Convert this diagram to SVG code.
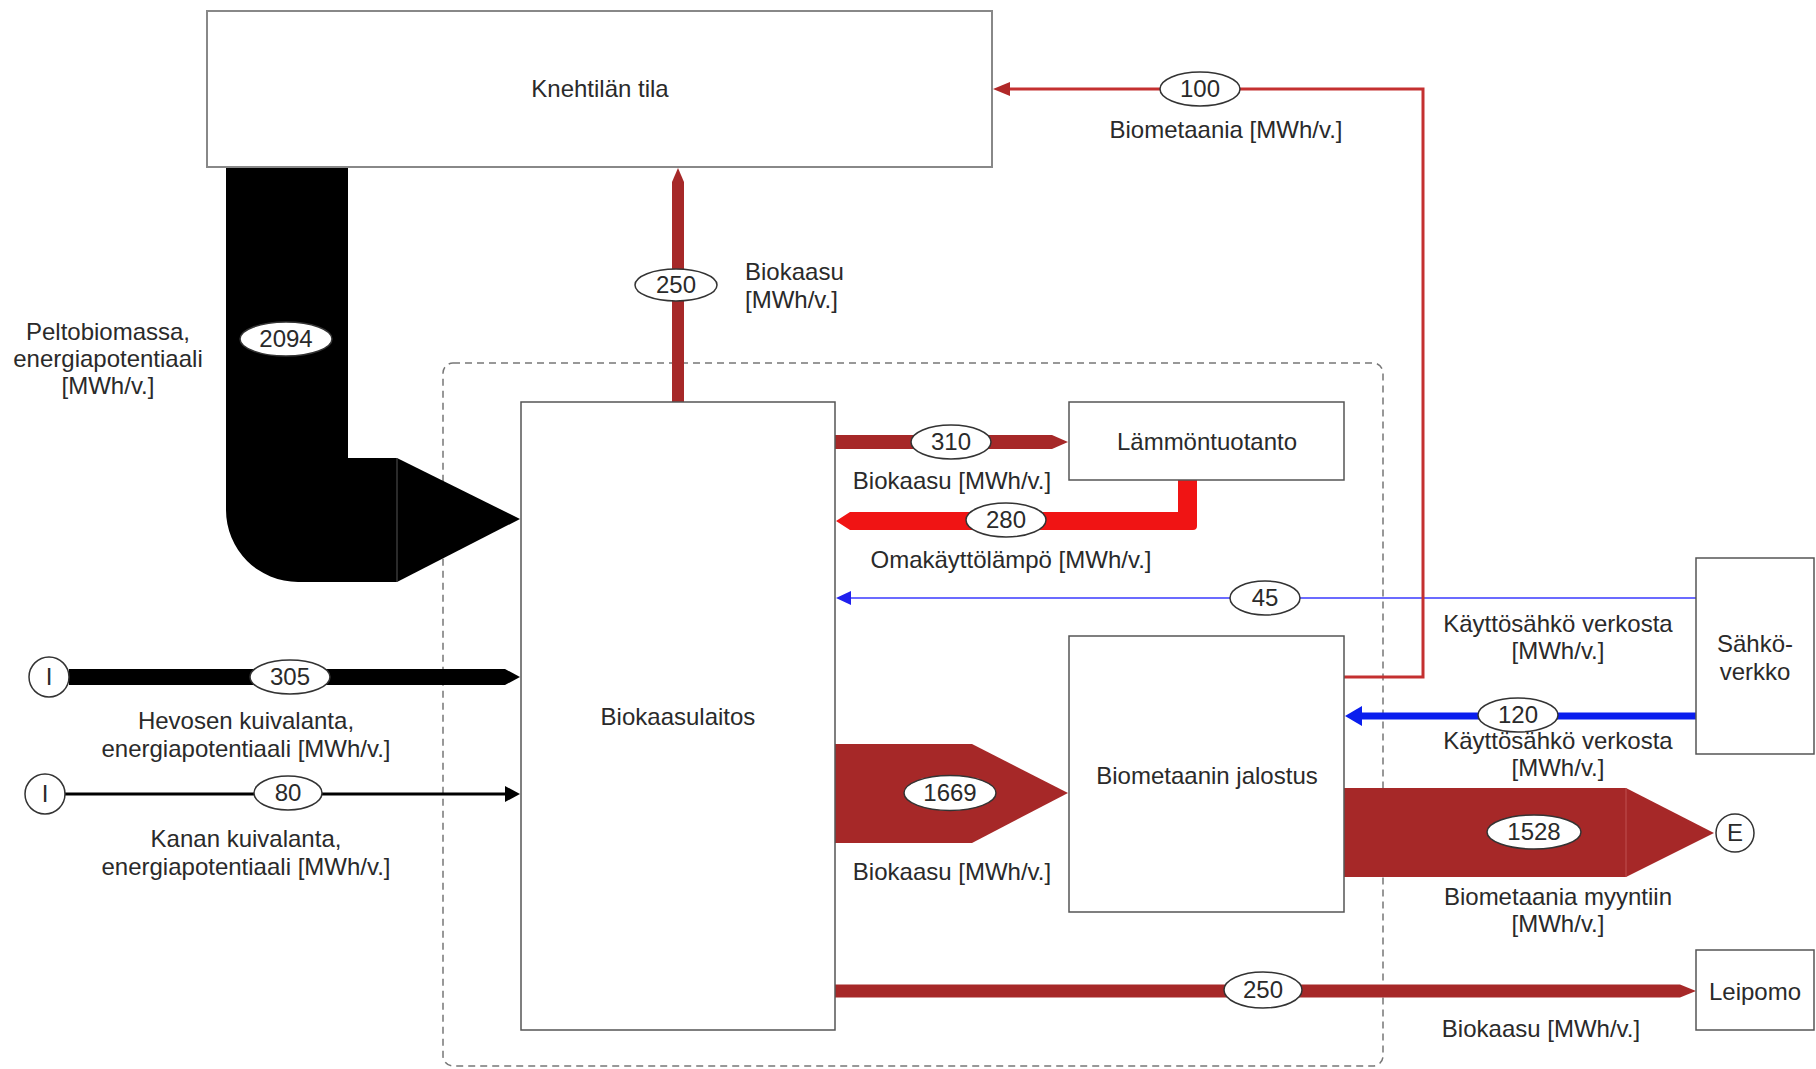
<svg xmlns="http://www.w3.org/2000/svg" width="1816" height="1069" viewBox="0 0 1816 1069">
<style>
text{font-family:"Liberation Sans",Arial,sans-serif;font-size:24px;fill:#2a2a2a;}
.c{text-anchor:middle;}
.box{fill:#fff;stroke:#555;stroke-width:1.5;}
.lbl{fill:#fff;stroke:#333;stroke-width:1.5;}
.dr{fill:#A62828;}
</style>
<rect width="1816" height="1069" fill="#fff"/>
<rect x="443" y="363" width="940" height="703" rx="10" fill="none" stroke="#777" stroke-width="1.5" stroke-dasharray="7 5"/>

<g id="connectors">
  <!-- Peltobiomassa 2094 -->
  <path d="M226,167 H348 V458 H397 V582 H298 A72,72 0 0 1 226,510 Z" fill="#000"/>
  <polygon points="397,458 520,519 397,582" fill="#000"/>
  <line x1="397" y1="458" x2="397" y2="582" stroke="#555" stroke-width="1"/>
  <!-- 250 up to Knehtilän tila -->
  <path class="dr" d="M672,402 V182 L678,168 L684,182 V402 Z"/>
  <!-- 310 -->
  <path class="dr" d="M835,435 H1052 L1068,442 L1052,449 H835 Z"/>
  <!-- 280 -->
  <path d="M1178,480 H1197 V526 Q1197,530 1193,530 H850 L836,521 L850,512 H1178 Z" fill="#F01414"/>
  <!-- 45 -->
  <line x1="1696" y1="598" x2="850" y2="598" stroke="#3a3aff" stroke-width="1.5"/>
  <polygon points="851,591 836,598 851,605" fill="#2020ee"/>
  <!-- 100 -->
  <polyline points="1344,677 1423,677 1423,89 1008,89" fill="none" stroke="#C43030" stroke-width="3"/>
  <polygon points="1010,82 993,89 1010,96" fill="#B02828"/>
  <!-- 120 -->
  <line x1="1696" y1="716" x2="1360" y2="716" stroke="#0a1eee" stroke-width="7"/>
  <polygon points="1362,706 1345,716 1362,726" fill="#0a1eee"/>
  <!-- 1669 -->
  <polygon class="dr" points="835,744 972,744 1068,793 972,843 835,843"/>
  <!-- 1528 -->
  <polygon class="dr" points="1344,788 1626,788 1714,833 1626,877 1344,877"/>
  <line x1="1626" y1="788" x2="1626" y2="877" stroke="#c05050" stroke-width="1"/>
  <!-- 250 Leipomo -->
  <path class="dr" d="M835,984.5 H1680 L1696,991 L1680,997.5 H835 Z"/>
  <!-- 305 -->
  <path d="M69,669 H505 L520,677 L505,685 H69 Z" fill="#000"/>
  <!-- 80 -->
  <line x1="64" y1="794" x2="507" y2="794" stroke="#000" stroke-width="3"/>
  <polygon points="505,786 520,794 505,802" fill="#000"/>
</g>

<g id="labels">
  <ellipse class="lbl" cx="286" cy="339" rx="46" ry="17"/><text class="c" x="286" y="347">2094</text>
  <ellipse class="lbl" cx="676" cy="285" rx="41" ry="16"/><text class="c" x="676" y="293">250</text>
  <ellipse class="lbl" cx="951" cy="442" rx="40" ry="17"/><text class="c" x="951" y="450">310</text>
  <ellipse class="lbl" cx="1006" cy="520" rx="40" ry="17"/><text class="c" x="1006" y="528">280</text>
  <ellipse class="lbl" cx="1265" cy="598" rx="35" ry="17"/><text class="c" x="1265" y="606">45</text>
  <ellipse class="lbl" cx="1200" cy="89" rx="40" ry="17"/><text class="c" x="1200" y="97">100</text>
  <ellipse class="lbl" cx="1518" cy="715" rx="40" ry="17"/><text class="c" x="1518" y="723">120</text>
  <ellipse class="lbl" cx="950" cy="793" rx="46" ry="17.5"/><text class="c" x="950" y="801">1669</text>
  <ellipse class="lbl" cx="1534" cy="832" rx="47" ry="17"/><text class="c" x="1534" y="840">1528</text>
  <ellipse class="lbl" cx="1263" cy="990" rx="39" ry="18"/><text class="c" x="1263" y="998">250</text>
  <ellipse class="lbl" cx="290" cy="677" rx="40" ry="17"/><text class="c" x="290" y="685">305</text>
  <ellipse class="lbl" cx="288" cy="793" rx="34" ry="17"/><text class="c" x="288" y="801">80</text>

  <text class="c" x="108" y="340">Peltobiomassa,</text>
  <text class="c" x="108" y="367">energiapotentiaali</text>
  <text class="c" x="108" y="394">[MWh/v.]</text>
  <text x="745" y="280">Biokaasu</text>
  <text x="745" y="308">[MWh/v.]</text>
  <text class="c" x="952" y="489">Biokaasu [MWh/v.]</text>
  <text class="c" x="1011" y="568">Omakäyttölämpö [MWh/v.]</text>
  <text class="c" x="1226" y="138">Biometaania [MWh/v.]</text>
  <text class="c" x="1558" y="632">Käyttösähkö verkosta</text>
  <text class="c" x="1558" y="659">[MWh/v.]</text>
  <text class="c" x="1558" y="749">Käyttösähkö verkosta</text>
  <text class="c" x="1558" y="776">[MWh/v.]</text>
  <text class="c" x="952" y="880">Biokaasu [MWh/v.]</text>
  <text class="c" x="1558" y="905">Biometaania myyntiin</text>
  <text class="c" x="1558" y="932">[MWh/v.]</text>
  <text class="c" x="1541" y="1037">Biokaasu [MWh/v.]</text>
  <text class="c" x="246" y="729">Hevosen kuivalanta,</text>
  <text class="c" x="246" y="757">energiapotentiaali [MWh/v.]</text>
  <text class="c" x="246" y="847">Kanan kuivalanta,</text>
  <text class="c" x="246" y="875">energiapotentiaali [MWh/v.]</text>
</g>

<g id="node-knehtila"><rect class="box" x="207" y="11" width="785" height="156" stroke="#888" style="stroke:#888;stroke-width:2"/><text class="c" x="600" y="97">Knehtilän tila</text></g>
<g id="node-biokaasulaitos"><rect class="box" x="521" y="402" width="314" height="628"/><text class="c" x="678" y="725">Biokaasulaitos</text></g>
<g id="node-lammontuotanto"><rect class="box" x="1069" y="402" width="275" height="78"/><text class="c" x="1207" y="450">Lämmöntuotanto</text></g>
<g id="node-jalostus"><rect class="box" x="1069" y="636" width="275" height="276"/><text class="c" x="1207" y="784">Biometaanin jalostus</text></g>
<g id="node-sahkoverkko"><rect class="box" x="1696" y="558" width="118" height="196"/><text class="c" x="1755" y="652">Sähkö-</text><text class="c" x="1755" y="680">verkko</text></g>
<g id="node-leipomo"><rect class="box" x="1696" y="950" width="118" height="80"/><text class="c" x="1755" y="1000">Leipomo</text></g>
<g id="node-input-hevonen"><circle class="lbl" cx="49" cy="677" r="20"/><text class="c" x="49" y="685">I</text></g>
<g id="node-input-kana"><circle class="lbl" cx="45" cy="794" r="20"/><text class="c" x="45" y="802">I</text></g>
<g id="node-export"><circle class="lbl" cx="1735" cy="833" r="19"/><text class="c" x="1735" y="841">E</text></g>
</svg>
